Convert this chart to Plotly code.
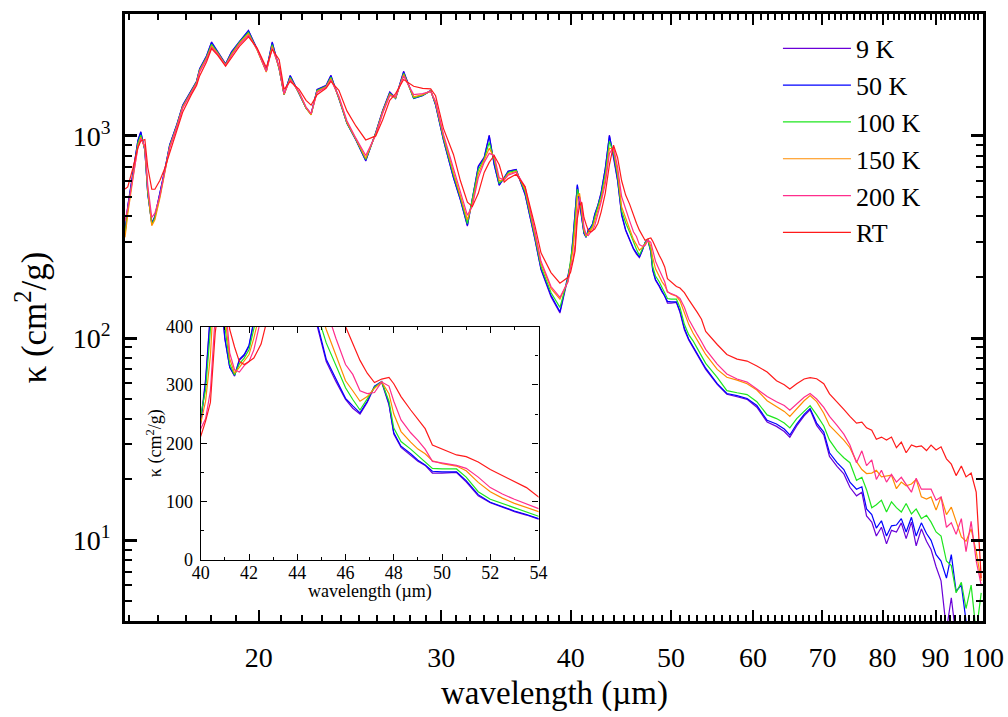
import plotly.graph_objects as go

# ---------------- data ----------------
wavelength = [
    14.86, 14.95, 15.12, 15.29, 15.39, 15.53, 15.63, 15.77, 15.88, 16.06, 16.23, 16.41, 16.67, 16.89,
    17.22, 17.42, 17.54, 17.81, 18.01, 18.26, 18.58, 18.83, 19.16, 19.55, 19.93, 20.34, 20.61, 20.93,
    21.16, 21.45, 21.88, 22.22, 22.47, 22.77, 23.23, 23.48, 23.90, 24.33, 24.82, 25.37, 25.94, 26.34,
    26.76, 27.11, 27.60, 28.22, 28.79, 29.31, 29.63, 30.15, 30.83, 31.31, 31.80, 32.15, 32.58, 33.01,
    33.38, 33.75, 34.13, 34.51, 34.82, 35.44, 36.15, 36.96, 37.45, 38.29, 39.06, 39.77,
    40.0, 40.2, 40.4, 40.6, 40.8, 41.0, 41.2, 41.4, 41.6, 41.8, 42.0, 42.2, 42.5, 42.8, 43.2, 43.6,
    44.0, 44.4, 44.8, 45.2, 45.6, 46.0, 46.3, 46.6, 46.9, 47.2, 47.5, 47.8, 48.0, 48.3, 48.7, 49.0,
    49.3, 49.6, 50.0, 50.6, 51.0, 51.5, 52.0, 52.5, 53.0, 53.5, 54.0,
    55.4, 56.6, 57.9, 59.2, 60.5, 61.9, 63.2, 64.3, 65.1, 66.1, 67.2, 68.1,
    69.1, 70.2, 71.1, 72.3, 73.4, 74.4, 75.5, 76.4, 77.2, 78.1, 78.9, 79.8, 80.7, 81.6, 82.5, 83.4,
    84.3, 85.3, 86.2, 87.2, 88.2, 89.1, 90.1, 91.1, 92.2, 93.2, 94.2, 95.3, 96.3, 97.4, 98.5, 99.6,
]

kappa_9K = [
    335, 450, 655, 950, 1050, 850, 520, 372, 400, 516, 676, 903, 1135, 1420,
    1680, 1865, 2150, 2490, 2920, 2610, 2270, 2610, 2940, 3330, 2690, 2100, 2920, 2150,
    1605, 1990, 1625, 1375, 1285, 1700, 1780, 1995, 1535, 1160, 958, 752, 1040, 1335,
    1650, 1540, 2090, 1535, 1590, 1680, 1425, 955, 620, 482, 358, 495, 710, 785,
    1010, 725, 570, 620, 670, 682, 512, 305, 218, 160, 133, 200,
    238, 310, 425, 570, 465, 378, 330, 315, 342, 350, 366, 408, 455, 525, 690, 1010,
    790, 600, 405, 340, 306, 275, 260, 250, 270, 297, 304, 266, 216, 193, 180, 169,
    162, 149, 149, 150, 134, 110, 98, 90, 83, 77, 70,
    59, 52.8, 51.3, 49.8, 45.5, 38.5, 36.6, 34.5, 32.3, 36.8, 41.3, 44.2,
    37, 33.2, 26, 23.2, 21.3, 18.3, 16.6, 17.3, 13.2, 12.3, 10.5, 11.6, 9.6, 11.2, 11, 12.2,
    10.2, 12.3, 9.4, 11.4, 9.9, 9, 7.4, 6.3, 3.6, 5.2, 3.3, 3.6, 3, 3, 3, 3,
]

kappa_50K = [
    330, 446, 646, 946, 1045, 845, 516, 369, 400, 516, 676, 903, 1132, 1416,
    1675, 1860, 2145, 2480, 2897, 2600, 2265, 2600, 2930, 3310, 2680, 2094, 2897, 2145,
    1600, 1983, 1620, 1370, 1280, 1695, 1772, 1983, 1530, 1155, 955, 755, 1035, 1330,
    1640, 1530, 2070, 1530, 1580, 1675, 1420, 955, 623, 485, 361, 499, 705, 780,
    1000, 720, 572, 623, 668, 680, 516, 308, 220, 163, 135, 205,
    234, 305, 420, 575, 470, 380, 330, 316, 344, 352, 368, 410, 455, 520, 690, 1000,
    800, 604, 410, 344, 310, 277, 264, 252, 272, 298, 306, 268, 218, 195, 182, 171,
    163, 152, 151, 151, 136, 112, 99, 91, 84, 78, 71,
    59.5, 53.2, 52, 50.3, 46.4, 39.2, 37.6, 35.5, 33.2, 37.6, 42, 44.9,
    38, 34.3, 27.1, 24.2, 22.4, 19.4, 17.9, 18.4, 14.3, 13.4, 11.5, 12.5, 10.5, 11.8, 11.9, 12.8,
    11, 13, 10.5, 12.2, 10.8, 10, 8.5, 7.9, 6.5, 8.5, 5.6, 6, 4, 3.5, 3.8, 3.2,
]

kappa_100K = [
    325, 430, 630, 920, 1010, 860, 530, 365, 395, 505, 665, 890, 1120, 1400,
    1660, 1845, 2120, 2450, 2840, 2580, 2250, 2560, 2900, 3250, 2670, 2080, 2830, 2150,
    1600, 1950, 1620, 1370, 1275, 1680, 1760, 1950, 1540, 1160, 960, 765, 1030, 1320,
    1620, 1535, 2040, 1540, 1590, 1670, 1440, 975, 640, 495, 368, 480, 680, 770,
    930, 760, 585, 615, 660, 675, 530, 315, 226, 168, 142, 198,
    245, 292, 395, 545, 500, 400, 336, 317, 336, 346, 360, 396, 442, 505, 650, 940,
    830, 630, 425, 372, 335, 295, 275, 257, 276, 296, 305, 272, 226, 203, 190, 179,
    168, 157, 156, 156, 142, 117, 104, 97, 89, 82, 75,
    64, 55, 53.7, 52.6, 48.5, 41.7, 40, 38, 36, 40, 43.4, 46.4,
    41.7, 36.8, 31.3, 27.7, 25.6, 24.2, 19.8, 20.5, 17.8, 14.5, 15, 15.8, 13.8, 15.5, 14.5, 13.8,
    15.2, 13.5, 14.3, 12.8, 13.3, 12.3, 11, 10.5, 7.9, 7.5, 5.5, 6.2, 4.6, 6, 3.5, 5.5,
]

kappa_150K = [
    315, 410, 610, 890, 985, 870, 545, 360, 385, 495, 655, 880, 1110, 1390,
    1650, 1830, 2100, 2420, 2780, 2560, 2240, 2530, 2870, 3200, 2660, 2070, 2770, 2160,
    1600, 1920, 1630, 1375, 1270, 1660, 1750, 1920, 1550, 1170, 965, 775, 1020, 1310,
    1600, 1545, 2010, 1560, 1600, 1665, 1460, 1000, 660, 510, 385, 460, 650, 760,
    870, 780, 600, 610, 650, 668, 545, 325, 234, 176, 156, 192,
    232, 272, 350, 500, 520, 420, 345, 320, 330, 340, 352, 380, 425, 485, 610, 870,
    860, 660, 445, 395, 352, 307, 290, 272, 280, 294, 305, 285, 250, 220, 202, 190,
    182, 170, 165, 161, 153, 133, 117, 106, 97, 90, 83,
    70, 64, 62, 59.5, 55.4, 49, 46, 43.4, 41, 44.9, 49, 52,
    48.5, 42.5, 37, 33.9, 31.3, 28.7, 24.5, 22.4, 21.4, 21.5, 22.2, 20.6, 20.8, 21, 18, 19.4,
    18.6, 19, 20, 16.4, 16, 16.4, 14.1, 16.4, 13.4, 14.6, 12.4, 10.4, 9.9, 11.4, 8.8, 6.3,
]

kappa_200K = [
    380, 440, 620, 870, 970, 890, 570, 395, 415, 510, 665, 870, 1100, 1370,
    1640, 1810, 2070, 2390, 2740, 2540, 2230, 2500, 2840, 3150, 2680, 2090, 2720, 2200,
    1620, 1900, 1650, 1390, 1290, 1640, 1740, 1890, 1570, 1190, 975, 800, 1010, 1290,
    1580, 1560, 1980, 1600, 1620, 1660, 1480, 1020, 690, 530, 405, 450, 620, 740,
    820, 800, 620, 605, 640, 662, 560, 335, 240, 180, 159, 190,
    225, 242, 290, 420, 500, 450, 355, 326, 322, 333, 340, 360, 410, 470, 580, 820,
    880, 700, 500, 430, 380, 335, 318, 290, 285, 287, 305, 298, 272, 240, 218, 205,
    190, 169, 166, 162, 157, 142, 124, 113, 104, 96, 88,
    74.4, 66.5, 62.8, 60.6, 56, 51.5, 48.5, 46.4, 44, 47.5, 51, 53.2,
    50, 45.4, 41, 37, 33.5, 29.6, 24.2, 27.7, 23.4, 25, 20, 22.2, 19.4, 21.2, 19.4, 20.5,
    18.9, 17.3, 20.3, 17.9, 17.9, 17.9, 15.8, 16.4, 11.6, 12.2, 10.7, 12.8, 8.8, 12.4, 7.9, 6.0,
]

kappa_RT = [
    546, 560, 690, 875, 945, 960, 700, 545, 545, 604, 690, 830, 1070, 1310,
    1600, 1775, 1980, 2320, 2700, 2500, 2210, 2440, 2770, 3090, 2720, 2180, 2680, 2380,
    1700, 1860, 1700, 1500, 1420, 1600, 1720, 1860, 1680, 1330, 1120, 955, 1000, 1200,
    1500, 1620, 1900, 1760, 1720, 1710, 1580, 1090, 810, 600, 470, 447, 520, 660,
    740, 800, 720, 590, 615, 646, 560, 357, 264, 211, 187, 200,
    212, 238, 270, 390, 450, 470, 395, 365, 340, 335, 340, 346, 370, 420, 520, 720,
    900, 780, 600, 510, 460, 400, 370, 342, 320, 304, 310, 313, 302, 280, 257, 242,
    225, 197, 190, 180, 177, 168, 155, 145, 134, 124, 108,
    93, 83, 78.7, 77, 72.8, 68, 61.5, 58.8, 56, 59.5, 62.8, 63.7,
    63, 59.5, 53, 48.5, 44.4, 41, 38, 38.4, 36, 35, 31.6, 32.4, 31.3, 32.4, 28.7, 30.6,
    27.1, 29.6, 29, 29.3, 27.8, 29.6, 28, 29, 25.3, 23.8, 20.9, 23.3, 20.6, 21.5, 17.3, 6.5,
]

series_names = ["9 K", "50 K", "100 K", "150 K", "200 K", "RT"]
series_values = [kappa_9K, kappa_50K, kappa_100K, kappa_150K, kappa_200K, kappa_RT]
series_colors = ["#6a00d8", "#0000ff", "#1ee61e", "#ff8c00", "#ff2d8c", "#ff1a1a"]

x_tick_vals = [20, 30, 40, 50, 60, 70, 80, 90, 100]
x_tick_text = ["20", "30", "40", "50", "60", "70", "80", "90", "100"]
y_tick_vals = [10, 100, 1000]
y_tick_text = ["10<sup>1</sup>", "10<sup>2</sup>", "10<sup>3</sup>"]

inset_x_ticks = [40, 42, 44, 46, 48, 50, 52, 54]
inset_y_ticks = [0, 100, 200, 300, 400]

FONT = "Liberation Serif, Times New Roman, Times, serif"

# ---------------- figure ----------------
fig = go.Figure()
for name, vals, col in zip(series_names, series_values, series_colors):
    fig.add_trace(go.Scatter(x=wavelength, y=vals, mode="lines", name=name,
                             line=dict(color=col, width=1.2), xaxis="x", yaxis="y"))
for name, vals, col in zip(series_names, series_values, series_colors):
    fig.add_trace(go.Scatter(x=wavelength, y=vals, mode="lines", name=name, showlegend=False,
                             line=dict(color=col, width=1.2), xaxis="x2", yaxis="y2"))

x_minor = [v for v in range(15, 100) if v % 10 != 0]
y_minor = [v * m for m in (1, 10, 100) for v in range(2, 10) if 4 <= v * m <= 4000]

fig.update_layout(
    width=1008, height=717,
    margin=dict(l=125, r=22, t=4, b=96),
    paper_bgcolor="white", plot_bgcolor="white",
    font=dict(family=FONT, color="black"),
    showlegend=True,
    legend=dict(x=0.761, y=0.982, xanchor="left", yanchor="top",
                bgcolor="rgba(0,0,0,0)", font=dict(size=26, family=FONT),
                itemwidth=68, tracegroupgap=0),
    xaxis=dict(type="log", range=[1.172, 2.0], domain=[0, 1],
               tickmode="array", tickvals=x_tick_vals, ticktext=x_tick_text,
               ticks="inside", ticklen=11, tickwidth=2, tickcolor="black",
               minor=dict(tickvals=x_minor, ticks="inside", ticklen=6, tickwidth=1.5, tickcolor="black"),
               showline=True, linewidth=2.5, linecolor="black", mirror="allticks",
               showgrid=False, zeroline=False,
               tickfont=dict(size=28, family=FONT), ticklabelstandoff=10),
    yaxis=dict(type="log", range=[0.601, 3.603], domain=[0, 1],
               tickmode="array", tickvals=y_tick_vals, ticktext=y_tick_text,
               ticks="inside", ticklen=12, tickwidth=2.5, tickcolor="black",
               minor=dict(tickvals=y_minor, ticks="inside", ticklen=7, tickwidth=2, tickcolor="black"),
               showline=True, linewidth=2.5, linecolor="black", mirror="allticks",
               showgrid=False, zeroline=False,
               tickfont=dict(size=28, family=FONT), ticklabelstandoff=6,
               title=dict(text="κ (cm<sup>2</sup>/g)", font=dict(size=35, family=FONT), standoff=16)),
    xaxis2=dict(range=[40, 54], domain=[0.0883, 0.482], anchor="y2",
                tickmode="array", tickvals=inset_x_ticks,
                ticks="inside", ticklen=6, tickwidth=1, tickcolor="black",
                minor=dict(dtick=1, ticks="inside", ticklen=3, tickwidth=1, tickcolor="black"),
                showline=True, linewidth=1.2, linecolor="black", mirror="allticks",
                showgrid=False, zeroline=False,
                tickfont=dict(size=18, family=FONT), ticklabelstandoff=-4),
    yaxis2=dict(range=[0, 400], domain=[0.1005, 0.4851], anchor="x2",
                tickmode="array", tickvals=inset_y_ticks,
                ticks="inside", ticklen=6, tickwidth=1, tickcolor="black",
                minor=dict(dtick=50, ticks="inside", ticklen=3, tickwidth=1, tickcolor="black"),
                showline=True, linewidth=1.2, linecolor="black", mirror="allticks",
                showgrid=False, zeroline=False,
                tickfont=dict(size=18, family=FONT), ticklabelstandoff=3),
    annotations=[
        dict(text="wavelength (µm)", xref="paper", yref="paper", x=0.5, y=(621 - 695) / 617,
             xanchor="center", yanchor="middle", showarrow=False,
             font=dict(size=33, family=FONT)),
        dict(text="wavelength (µm)", xref="x2", yref="paper", x=47, y=(621 - 591) / 617,
             xanchor="center", yanchor="middle", showarrow=False,
             font=dict(size=18, family=FONT)),
        dict(text="κ (cm<sup>2</sup>/g)", xref="paper", yref="y2", x=(155 - 125) / 861, y=200,
             xanchor="center", yanchor="middle", textangle=-90, showarrow=False,
             font=dict(size=18, family=FONT)),
    ],
)

fig.write_html("out.html")
